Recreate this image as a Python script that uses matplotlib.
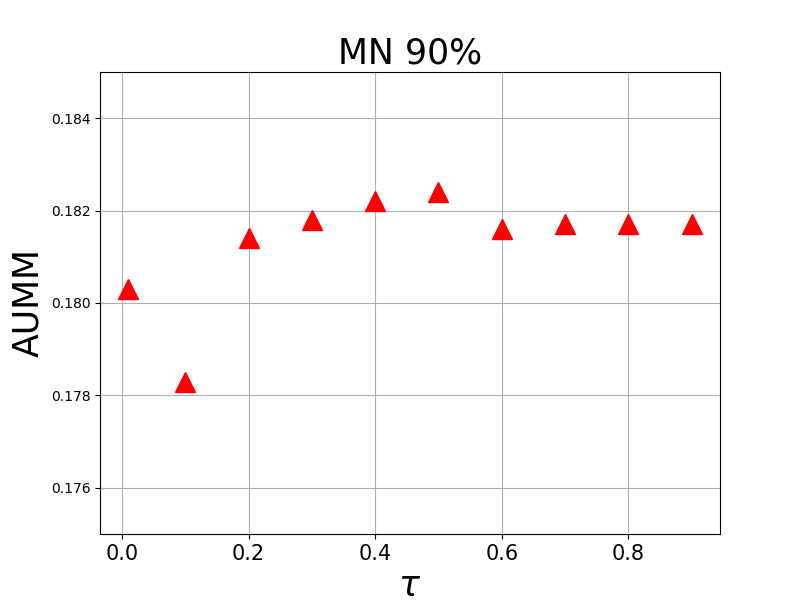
import numpy as np
import matplotlib
matplotlib.use("Agg")
import matplotlib.pyplot as plt

tau = [0.01, 0.1, 0.2, 0.3, 0.4, 0.5, 0.6, 0.7, 0.8, 0.9]
aumm = [0.1803, 0.1783, 0.1814, 0.1818, 0.1822, 0.1824, 0.1816, 0.1817, 0.1817, 0.1817]

plt.figure(figsize=(8, 6), dpi=100)
plt.plot(tau, aumm, 'r^', markersize=14)
plt.ylim(0.175, 0.185)
plt.title('MN 90%', fontsize=25)
plt.xlabel(r'$\tau$', fontsize=25)
plt.ylabel('AUMM', fontsize=25)
plt.xticks(fontsize=15)
plt.grid()
plt.savefig("out.png")
